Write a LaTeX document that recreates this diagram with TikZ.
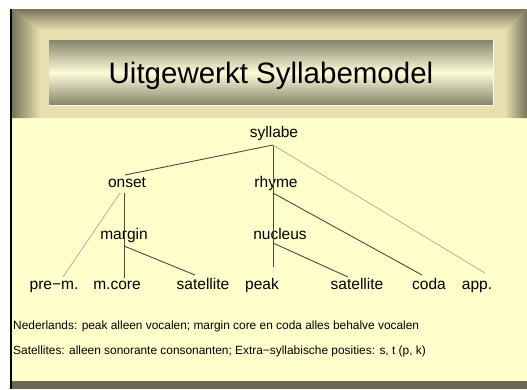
\documentclass[tikz,border=0pt]{standalone}
\usepackage{fontspec}
\setmainfont{Liberation Sans}
\definecolor{cream}{HTML}{FFFFCC}
\definecolor{framelight}{HTML}{E8DEB0}
\definecolor{framedark}{HTML}{77735A}
\definecolor{bardark}{HTML}{85856B}
\definecolor{barlight}{HTML}{FDFCD8}
\definecolor{band}{HTML}{6C6752}
\definecolor{lnd}{HTML}{4A4A3C}
\definecolor{lnl}{HTML}{B8B098}
\tikzset{
  lbl/.style={inner sep=0pt, anchor=base, font=\fontsize{15.5}{18}\selectfont, text=black},
  note/.style={inner sep=0pt, anchor=base west, font=\fontsize{11.9}{14}\selectfont, text=black},
  ttl/.style={inner sep=0pt, anchor=base, font=\fontsize{29.5}{34}\selectfont, text=black},
  ln/.style={draw=lnd, line width=0.9pt},
  lnlight/.style={draw=lnl, line width=0.8pt}
}
\begin{document}
\begin{tikzpicture}[x=1pt,y=-1pt]
\useasboundingbox (0,0) rectangle (527,389);
\fill[white] (0,0) rectangle (527,389);
% cream body
\fill[cream] (12,118) rectangle (527,381);
\fill[band] (12,381) rectangle (527,389);
% frame
\fill[framelight] (12,9) rectangle (527,118);
\shade[top color=framedark, bottom color=framelight] (12,9) -- (527,9) -- (505,30) -- (40,30) -- cycle;
\shade[left color=framedark, right color=framelight] (12,9) -- (40,30) -- (40,118) -- (12,118) -- cycle;
\shade[left color=framelight, right color=framedark] (527,9) -- (505,30) -- (505,118) -- (527,118) -- cycle;
% title bar
\shade[top color=bardark, bottom color=bardark, middle color=barlight] (49,40) rectangle (493,105);
\draw[white!85!framelight, line width=0.6pt] (493,40) -- (493,105) -- (49,105);
\node[ttl] (title) at (271,83) {Uitgewerkt Syllabemodel};
% left black rule
\fill[black] (10,9) rectangle (12,389);
% tree nodes
\node[lbl] (syllabe) at (274,137) {syllabe};
\node[lbl] (onset) at (127,187) {onset};
\node[lbl] (rhyme) at (276,187) {rhyme};
\node[lbl] (margin) at (124,239) {margin};
\node[lbl] (nucleus) at (280,239) {nucleus};
\node[lbl] (prem) at (54,289) {pre−m.};
\node[lbl] (mcore) at (117,289) {m.core};
\node[lbl] (sat1) at (203,289) {satellite};
\node[lbl] (peak) at (262,289) {peak};
\node[lbl] (sat2) at (357,289) {satellite};
\node[lbl] (coda) at (429,289) {coda};
\node[lbl] (app) at (477,289) {app.};
% junction points
\coordinate (sJ) at (273,145);
\coordinate (oJ) at (124,193);
\coordinate (oJl) at (120,193);
\coordinate (rJ) at (273,193);
\coordinate (mJ) at (124,246);
\coordinate (nJ) at (273,243);
\coordinate (onsetT) at (125,175);
\coordinate (peakT) at (273,267);
\coordinate (appT) at (485,273);
\coordinate (codaT) at (422,275);
\coordinate (sat2T) at (348,277);
\coordinate (mcoreT) at (124,278);
\coordinate (premT) at (63,277);
\coordinate (sat1T) at (195,275);
% connectors
\draw[ln] (sJ) -- (onsetT);
\draw[ln] (sJ) -- (peakT);
\draw[lnlight] (sJ) -- (appT);
\draw[ln] (rJ) -- (codaT);
\draw[ln] (nJ) -- (sat2T);
\draw[ln] (oJ) -- (mcoreT);
\draw[lnlight] (oJl) -- (premT);
\draw[ln] (mJ) -- (sat1T);
% notes
\node[note] (n1) at (13,329) {Nederlands: peak alleen vocalen; margin core en coda alles behalve vocalen};
\node[note] (n2) at (13,354) {Satellites: alleen sonorante consonanten; Extra−syllabische posities: s, t (p, k)};
\end{tikzpicture}
\end{document}
